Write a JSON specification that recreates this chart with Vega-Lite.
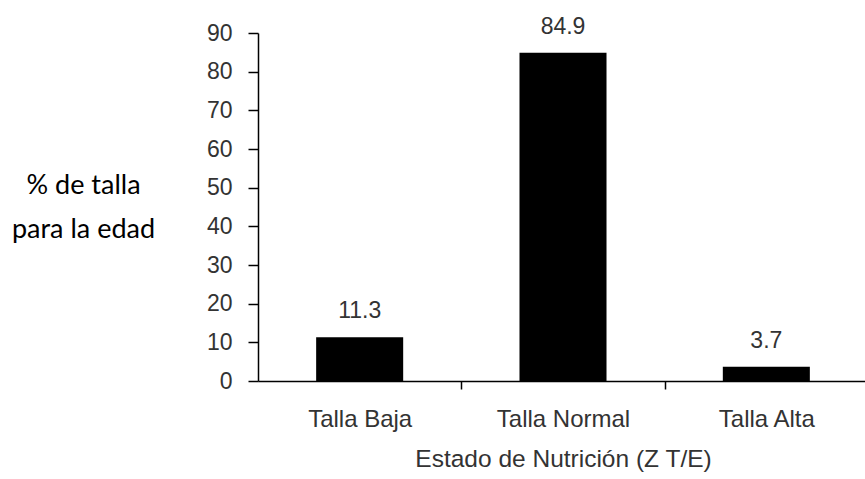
{
  "$schema": "https://vega.github.io/schema/vega-lite/v6.json",
  "autosize": "none",
  "width": 610,
  "height": 348,
  "padding": {"left": 258, "top": 33, "right": 0, "bottom": 98},
  "background": "white",
  "data": {
    "values": [
      {"estado": "Talla Baja", "pct": 11.3},
      {"estado": "Talla Normal", "pct": 84.9},
      {"estado": "Talla Alta", "pct": 3.7}
    ]
  },
  "config": {
    "view": {"stroke": null},
    "axis": {
      "labelFont": "Liberation Sans",
      "labelFontSize": 23,
      "labelColor": "#333333",
      "titleFontWeight": "normal",
      "domainColor": "#000000",
      "domainWidth": 1.5,
      "tickColor": "#000000",
      "tickWidth": 1.5,
      "grid": false
    }
  },
  "encoding": {
    "x": {
      "field": "estado",
      "type": "nominal",
      "sort": null,
      "scale": {"paddingInner": 0.572, "paddingOuter": 0.286},
      "axis": {
        "title": "Estado de Nutrición (Z T/E)",
        "titleFont": "Liberation Sans",
        "titleFontSize": 24.5,
        "titleColor": "#333333",
        "titleBaseline": "alphabetic",
        "titleY": 85,
        "labelAngle": 0,
        "labelFontSize": 24,
        "labelPadding": 18,
        "labelOffset": -101.7,
        "ticks": true,
        "tickOffset": 101.7,
        "tickSize": 8,
        "tickColor": "#000000",
        "tickWidth": 1.5
      }
    },
    "y": {
      "field": "pct",
      "type": "quantitative",
      "scale": {"domain": [0, 90], "nice": false},
      "axis": {
        "values": [0, 10, 20, 30, 40, 50, 60, 70, 80, 90],
        "title": ["% de talla", "para la edad"],
        "titleFont": "Lato",
        "titleFontSize": 27,
        "titleColor": "#000000",
        "titleAngle": 0,
        "titleAlign": "center",
        "titleBaseline": "middle",
        "titleLineHeight": 44,
        "titleX": -175,
        "titleY": 152,
        "tickSize": 10,
        "labelPadding": 16
      }
    }
  },
  "layer": [
    {"mark": {"type": "bar", "color": "#000000"}},
    {
      "mark": {
        "type": "text",
        "font": "Liberation Sans",
        "fontSize": 23,
        "color": "#333333",
        "baseline": "alphabetic",
        "dy": -19
      },
      "encoding": {"text": {"field": "pct", "type": "quantitative", "format": ".1f"}}
    }
  ]
}
